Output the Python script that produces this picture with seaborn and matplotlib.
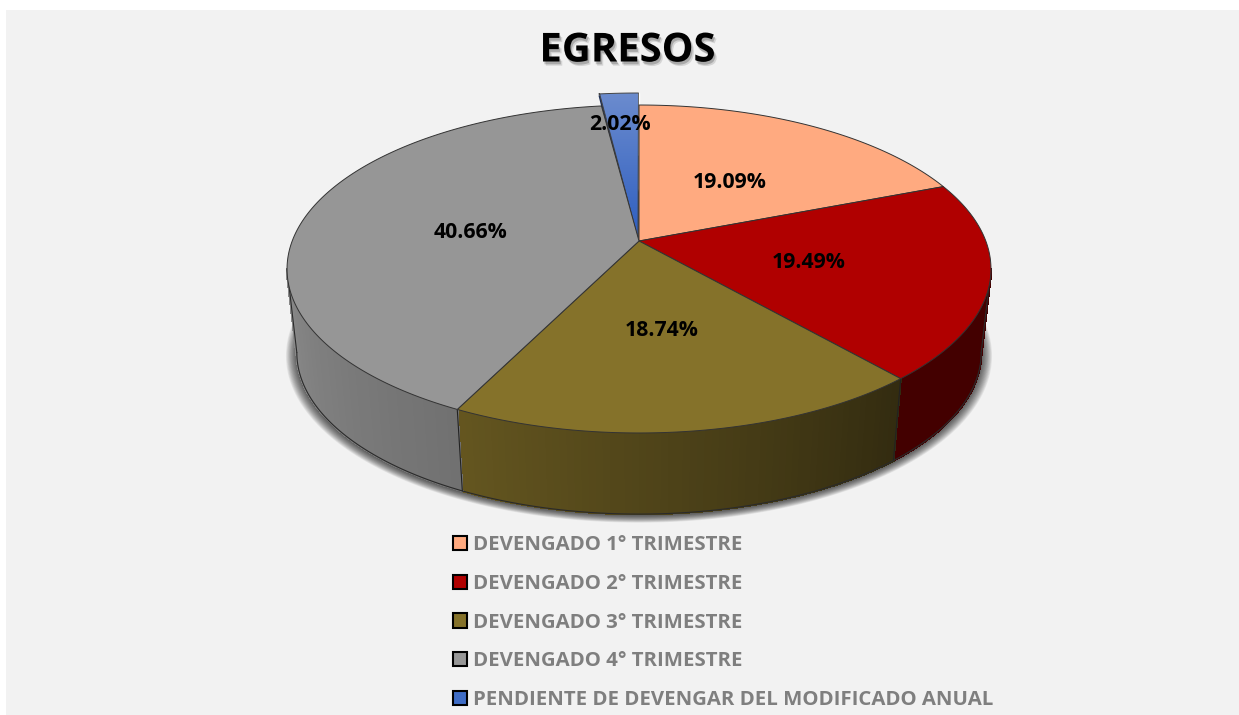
import numpy as np
import seaborn as sns
import matplotlib
matplotlib.use("Agg")
import matplotlib.pyplot as plt
import matplotlib.patheffects as pe
from matplotlib.patches import Patch, Rectangle, Polygon

categories = ["DEVENGADO 1° TRIMESTRE", "DEVENGADO 2° TRIMESTRE", "DEVENGADO 3° TRIMESTRE",
              "DEVENGADO 4° TRIMESTRE", "PENDIENTE DE DEVENGAR DEL MODIFICADO ANUAL"]
values = [19.09, 19.49, 18.74, 40.66, 2.02]
colors = ["#FFAA80", "#B00000", "#85722A", "#969696", "#3F6DC6"]

# where each percent label sits, in picture pixels
label_xy = [(730, 183), (809, 262), (662, 331), (471, 232), (620, 125)]

sns.set_theme(style="white")
plt.rcParams['font.family'] = ['Open Sans', 'DejaVu Sans']
palette = sns.color_palette(colors)

fig = plt.figure(figsize=(12.39, 7.15), dpi=100, facecolor="white")
ax = fig.add_axes([0, 0, 1, 1])
ax.axis("off")
ax.add_patch(Rectangle((6, 10), 1233, 705, fc="#F2F2F2", ec="none", zorder=0))

# perspective of the pie disc
K = -0.1707
# part of the rim that faces the viewer
FRONT_LO = np.radians(99.8)
FRONT_HI = np.radians(260.2)


def project(theta, r=1.0, scale=1.0, x0=639.0, y0=241.0):
    u = r * np.sin(theta)
    v = -r * np.cos(theta)
    d = 1 + K * v
    return x0 + 346.8 * scale * u / d, y0 + 159.2 * scale * v / d


def bottom(theta, r=1.0):
    x, y = project(theta, r, 0.985, 639.0, 325.0)
    return 639.0 + (x - 639.0) * 0.987, y


def wall_light(theta):
    return np.interp(np.degrees(theta), [60, 139, 206, 280], [0.38, 0.38, 0.75, 0.97])


edges = np.radians(np.concatenate([[0], np.cumsum(values)]) * 3.6)
edges[-1] = 2 * np.pi

# soft shadow under the pie
full = np.linspace(0, 2 * np.pi, 360)
for i in range(14):
    sx, sy = bottom(full, 1 + 0.0022 * (14 - i))
    ax.fill(sx, sy + 1.5, color="black", alpha=0.06, lw=0, zorder=1)

# side walls, cut in thin strips for the shading
for i, c in enumerate(palette[:4]):
    lo, hi = max(edges[i], FRONT_LO), min(edges[i + 1], FRONT_HI)
    if lo >= hi:
        continue
    th = np.linspace(lo, hi, max(int(np.degrees(hi - lo)), 2) + 1)
    for a, b in zip(th[:-1], th[1:]):
        m = (a + b) / 2
        xa, ya = project(a)
        xb, yb = project(b)
        xc, yc = bottom(b)
        xd, yd = bottom(a)
        col = np.clip(np.array(c) * wall_light(m), 0, 1)
        ax.add_patch(Polygon([(xa, ya), (xb, yb), (xc, yc), (xd, yd)], fc=col, ec=col, lw=1.0,
                             antialiased=False, zorder=2))
    # outer lower rim and the seam
    bx, by = bottom(th)
    ax.plot(bx, by, color="#2a2a2a", lw=0.8, zorder=3)
    if i < 3:
        tx, ty = project(edges[i + 1])
        ex, ey = bottom(edges[i + 1])
        ax.plot([tx, ex], [ty, ey], color="#222222", lw=0.8, zorder=3)

# outer silhouette on both sides
for t in (FRONT_LO, FRONT_HI):
    tx, ty = project(t)
    ex, ey = bottom(t)
    ax.plot([tx, ex], [ty, ey], color="#2a2a2a", lw=0.8, zorder=3)

# top of the slices
for i, c in enumerate(palette[:4]):
    th = np.linspace(edges[i], edges[i + 1], 200)
    x, y = project(th)
    ax.fill(np.r_[639, x], np.r_[241, y], facecolor=c, edgecolor="#333333", lw=0.7, zorder=4, joinstyle="round")

# exploded slice, with the little inner wall on its left
th = np.linspace(edges[4], edges[5], 40)
x, y = project(th, 1.105, 1.0, 638.5, 241.0)
x[0] += 2
bx, by = np.r_[638.0, x], np.r_[238.5, y]
ax.plot([x[0] + 1, 636.5], [y[0] + 1, 238], color="#1B2D55", lw=3.2, zorder=3.4, solid_capstyle="butt")
grad = np.linspace(0, 1, 64).reshape(-1, 1)
cmap = matplotlib.colors.LinearSegmentedColormap.from_list("b", ["#6C8CCE", "#2E5EC0"])
im = ax.imshow(grad, extent=(590, 645, 240, 90), cmap=cmap, aspect="auto", zorder=3.5)
blue = Polygon(np.c_[bx, by], fc="none", ec="#444444", lw=0.7, zorder=3.6)
ax.add_patch(blue)
im.set_clip_path(blue)
ax.plot([638.6, 638.6], [93, 155], color="white", lw=1.0, zorder=3.7)

for (tx, ty), v in zip(label_xy, values):
    ax.text(tx, ty, f"{v:.2f}%", ha="center", va="center", fontsize=15.3, fontweight="bold",
            color="black", zorder=6)

ax.text(627.5, 51, "EGRESOS", ha="center", va="center", fontsize=28.8, fontweight="bold", color="black", zorder=6,
        path_effects=[pe.SimplePatchShadow(offset=(1, -2), shadow_rgbFace="black", alpha=0.2),
                      pe.SimplePatchShadow(offset=(2, -3), shadow_rgbFace="black", alpha=0.12),
                      pe.Normal()])

handles = [Patch(facecolor=c, edgecolor="black", lw=1.5) for c in palette]
leg = ax.legend(handles, categories, loc="upper left", bbox_to_anchor=(453, 535.5), bbox_transform=ax.transData,
                frameon=False, labelcolor="#7F7F7F", handlelength=0.68, handleheight=0.68,
                handletextpad=0.29, labelspacing=0.91, borderpad=0, borderaxespad=0,
                prop={"weight": "bold", "size": 14.7, "family": "Open Sans"})

ax.set_xlim(0, 1239)
ax.set_ylim(715, 0)
fig.savefig("out.png", dpi=100, facecolor="white")
